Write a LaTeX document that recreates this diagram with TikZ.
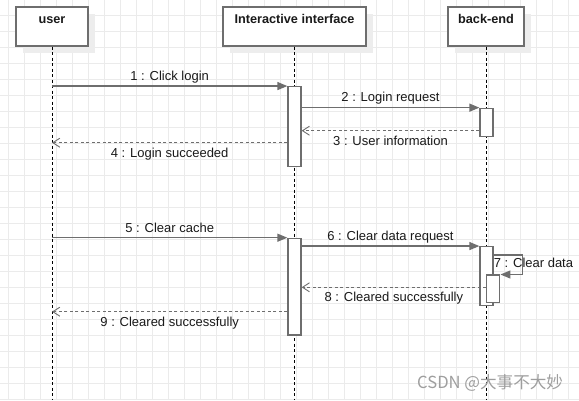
\documentclass[tikz,border=0pt]{standalone}
\usepackage{fontspec}
\setmainfont{Liberation Sans}
\newfontfamily\cjkfont{Noto Sans CJK SC}
\usetikzlibrary{arrows.meta,shadows}
\definecolor{linec}{HTML}{6E6E6E}
\definecolor{gridc}{HTML}{EBEBEB}
\definecolor{shadowc}{HTML}{EDEDED}
\definecolor{txtc}{HTML}{1A1A1A}
\begin{document}
\begin{tikzpicture}[x=1pt,y=-1pt,
  lifebox/.style={draw=linec, fill=white, line width=1.3pt, minimum height=39pt, inner sep=0pt,
    drop shadow={shadow xshift=6.5pt, shadow yshift=-6.5pt, fill=shadowc, opacity=1}},
  titletext/.style={font=\bfseries\fontsize{12.7}{14}\selectfont, text=txtc, inner sep=0pt, anchor=base},
  lifeline/.style={draw=black, line width=0.9pt, dash pattern=on 3pt off 2.5pt},
  actbox/.style={draw=linec, fill=white, line width=1.3pt, minimum width=13pt, inner sep=0pt},
  msg/.style={draw=linec, line width=1.3pt, -{Triangle[length=10pt,width=8pt]}},
  ret/.style={draw=linec, line width=1.3pt, dash pattern=on 3pt off 2.5pt,
    -{Straight Barb[length=7pt,width=9pt,line width=0.9pt]}},
  lab/.style={font=\fontsize{13}{15}\selectfont, text=txtc, inner sep=0pt, anchor=base},
]
\useasboundingbox (0,0) rectangle (579,400);
\fill[white] (0,0) rectangle (579,400);
% grid
\foreach \x in {8,24,...,578} \draw[gridc, line width=0.8pt] (\x,0) -- (\x,400);
\foreach \y in {15,31,...,399} \draw[gridc, line width=0.8pt] (0,\y) -- (579,\y);

% bottom reference
\coordinate (bottom) at (0,400);

% lifeline heads
\node[lifebox, minimum width=72pt]  (user) at (52,26.5) {};
\node[lifebox, minimum width=143pt] (ui)   at (294.5,26.5) {};
\node[lifebox, minimum width=76pt]  (be)   at (486,26.5) {};
\node[titletext, yshift=-17pt] (usert) at (user.north) {user};
\node[titletext, yshift=-17pt] (uit) at (ui.north) {Interactive interface};
\node[titletext, yshift=-17pt] (bet) at (be.north) {back-end};

% lifelines
\draw[lifeline] (user.south) -- (user.south |- bottom);
\draw[lifeline] (ui.south) -- (ui.south |- bottom);
\draw[lifeline] (be.south) -- (be.south |- bottom);

% activations
\node[actbox, minimum height=80pt]   (act1)  at (294.5,126.7) {};
\node[actbox, minimum height=28.4pt] (back1) at (486.5,122.5) {};
\node[actbox, minimum height=96.7pt] (act2)  at (294.5,286.7) {};
\node[actbox, minimum height=59pt]   (back2) at (486.5,276.2) {};
\node[actbox, minimum height=27.3pt] (nest)  at (493.3,288.7) {};

% message rows
\coordinate (m3) at (0,130.7);
\coordinate (m4) at (0,142.7);
\coordinate (m7) at (0,255);
\coordinate (c7) at (522.7,274.5);
\coordinate (m8) at (0,287.3);
\coordinate (m9) at (0,311.7);

% messages
\draw[msg] (user.south |- act1.north west) -- (act1.north west)
  node[lab, midway, yshift=5.7pt] {1 : Click login};
\draw[msg] (act1.east |- back1.north west) -- (back1.north west)
  node[lab, midway, yshift=6pt] {2 : Login request};
\draw[ret] (back1.west |- m3) -- (act1.east |- m3)
  node[lab, midway, yshift=-14.3pt] {3 : User information};
\draw[ret] (act1.west |- m4) -- (user.south |- m4)
  node[lab, midway, yshift=-14.6pt] {4 : Login succeeded};
\draw[msg] (user.south |- act2.north west) -- (act2.north west)
  node[lab, midway, yshift=5.7pt] {5 : Clear cache};
\draw[msg] (act2.east |- back2.north west) -- (back2.north west)
  node[lab, midway, yshift=6pt] {6 : Clear data request};
\draw[msg] (back2.east |- m7) -| (c7) -- (nest.east |- c7);
\path (back2.east |- m7) node[lab, anchor=base west, yshift=-12.7pt] (l7) {7 : Clear data};
\draw[ret] (nest.west |- m8) -- (act2.east |- m8)
  node[lab, midway, yshift=-14.4pt] {8 : Cleared successfully};
\draw[ret] (act2.west |- m9) -- (user.south |- m9)
  node[lab, midway, yshift=-14.4pt] {9 : Cleared successfully};

% watermark
\node[inner sep=0pt, anchor=base west, text=black!38, font=\cjkfont\fontsize{16.6}{18}\selectfont] (wm) at (417,388) {CSDN @大事不大妙};
\end{tikzpicture}
\end{document}
